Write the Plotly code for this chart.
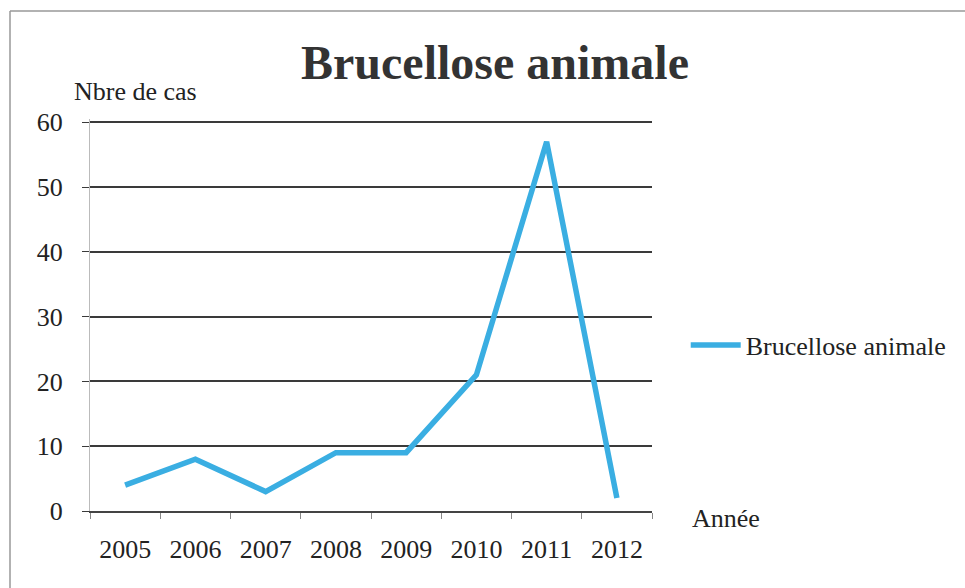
import plotly.graph_objects as go

# Annual animal brucellosis case counts
years = ["2005", "2006", "2007", "2008", "2009", "2010", "2011", "2012"]
cases = [4, 8, 3, 9, 9, 21, 57, 2]
series_name = "Brucellose animale"
y_ticks = [0, 10, 20, 30, 40, 50, 60]

W, H = 965, 588
FONT = "Liberation Serif"
INK = "#222222"

fig = go.Figure()
fig.add_trace(go.Scatter(
    x=years, y=cases, mode="lines", name=series_name,
    line=dict(color="#3aaee2", width=5.5),
))

fig.update_layout(
    width=W, height=H,
    margin=dict(l=90, r=313, t=119, b=77),
    paper_bgcolor="white", plot_bgcolor="white",
    font=dict(family=FONT, size=26, color=INK),
    title=dict(text="<b>Brucellose animale</b>", xref="container", yref="container",
               x=495 / W, y=1 - 62 / H, xanchor="center", yanchor="middle",
               font=dict(family=FONT, size=48, color="#333333")),
    showlegend=True,
    legend=dict(x=1.06, y=(511 - 345) / 392, xanchor="left", yanchor="middle",
                bgcolor="rgba(0,0,0,0)", itemwidth=50,
                font=dict(family=FONT, size=26, color=INK)),
    xaxis=dict(type="category", tickson="boundaries", ticks="outside", ticklen=6,
               tickcolor="#888888", showgrid=False, showline=True,
               linecolor="#444444", linewidth=1.5, ticklabelstandoff=14,
               tickfont=dict(family=FONT, size=26, color=INK),
               range=[-0.5, len(years) - 0.5]),
    yaxis=dict(range=[0, 60.5], tickvals=y_ticks, showgrid=True, gridcolor="#3a3a3a",
               gridwidth=1.5, ticks="outside", ticklen=7, tickcolor="#3a3a3a",
               showline=True, linecolor="#bbbbbb", linewidth=1, zeroline=False,
               tickfont=dict(family=FONT, size=26, color=INK),
               ticklabelstandoff=14),
    annotations=[
        dict(text="Nbre de cas", xref="paper", yref="paper", x=(72 - 90) / 562,
             y=(511 - 92) / 392, xanchor="left", yanchor="middle", showarrow=False,
             font=dict(family=FONT, size=26, color=INK)),
        dict(text="Année", xref="paper", yref="paper", x=(690 - 90) / 562,
             y=(511 - 518) / 392, xanchor="left", yanchor="middle", showarrow=False,
             font=dict(family=FONT, size=26, color=INK)),
    ],
    shapes=[
        dict(type="line", xref="paper", yref="paper", x0=(10 - 90) / 562, x1=(W - 90) / 562,
             y0=(511 - 11) / 392, y1=(511 - 11) / 392, line=dict(color="#999999", width=1.5)),
        dict(type="line", xref="paper", yref="paper", x0=(10 - 90) / 562, x1=(10 - 90) / 562,
             y0=(511 - 11) / 392, y1=(511 - H) / 392, line=dict(color="#999999", width=1.5)),
    ],
)

fig.write_html("out.html")
